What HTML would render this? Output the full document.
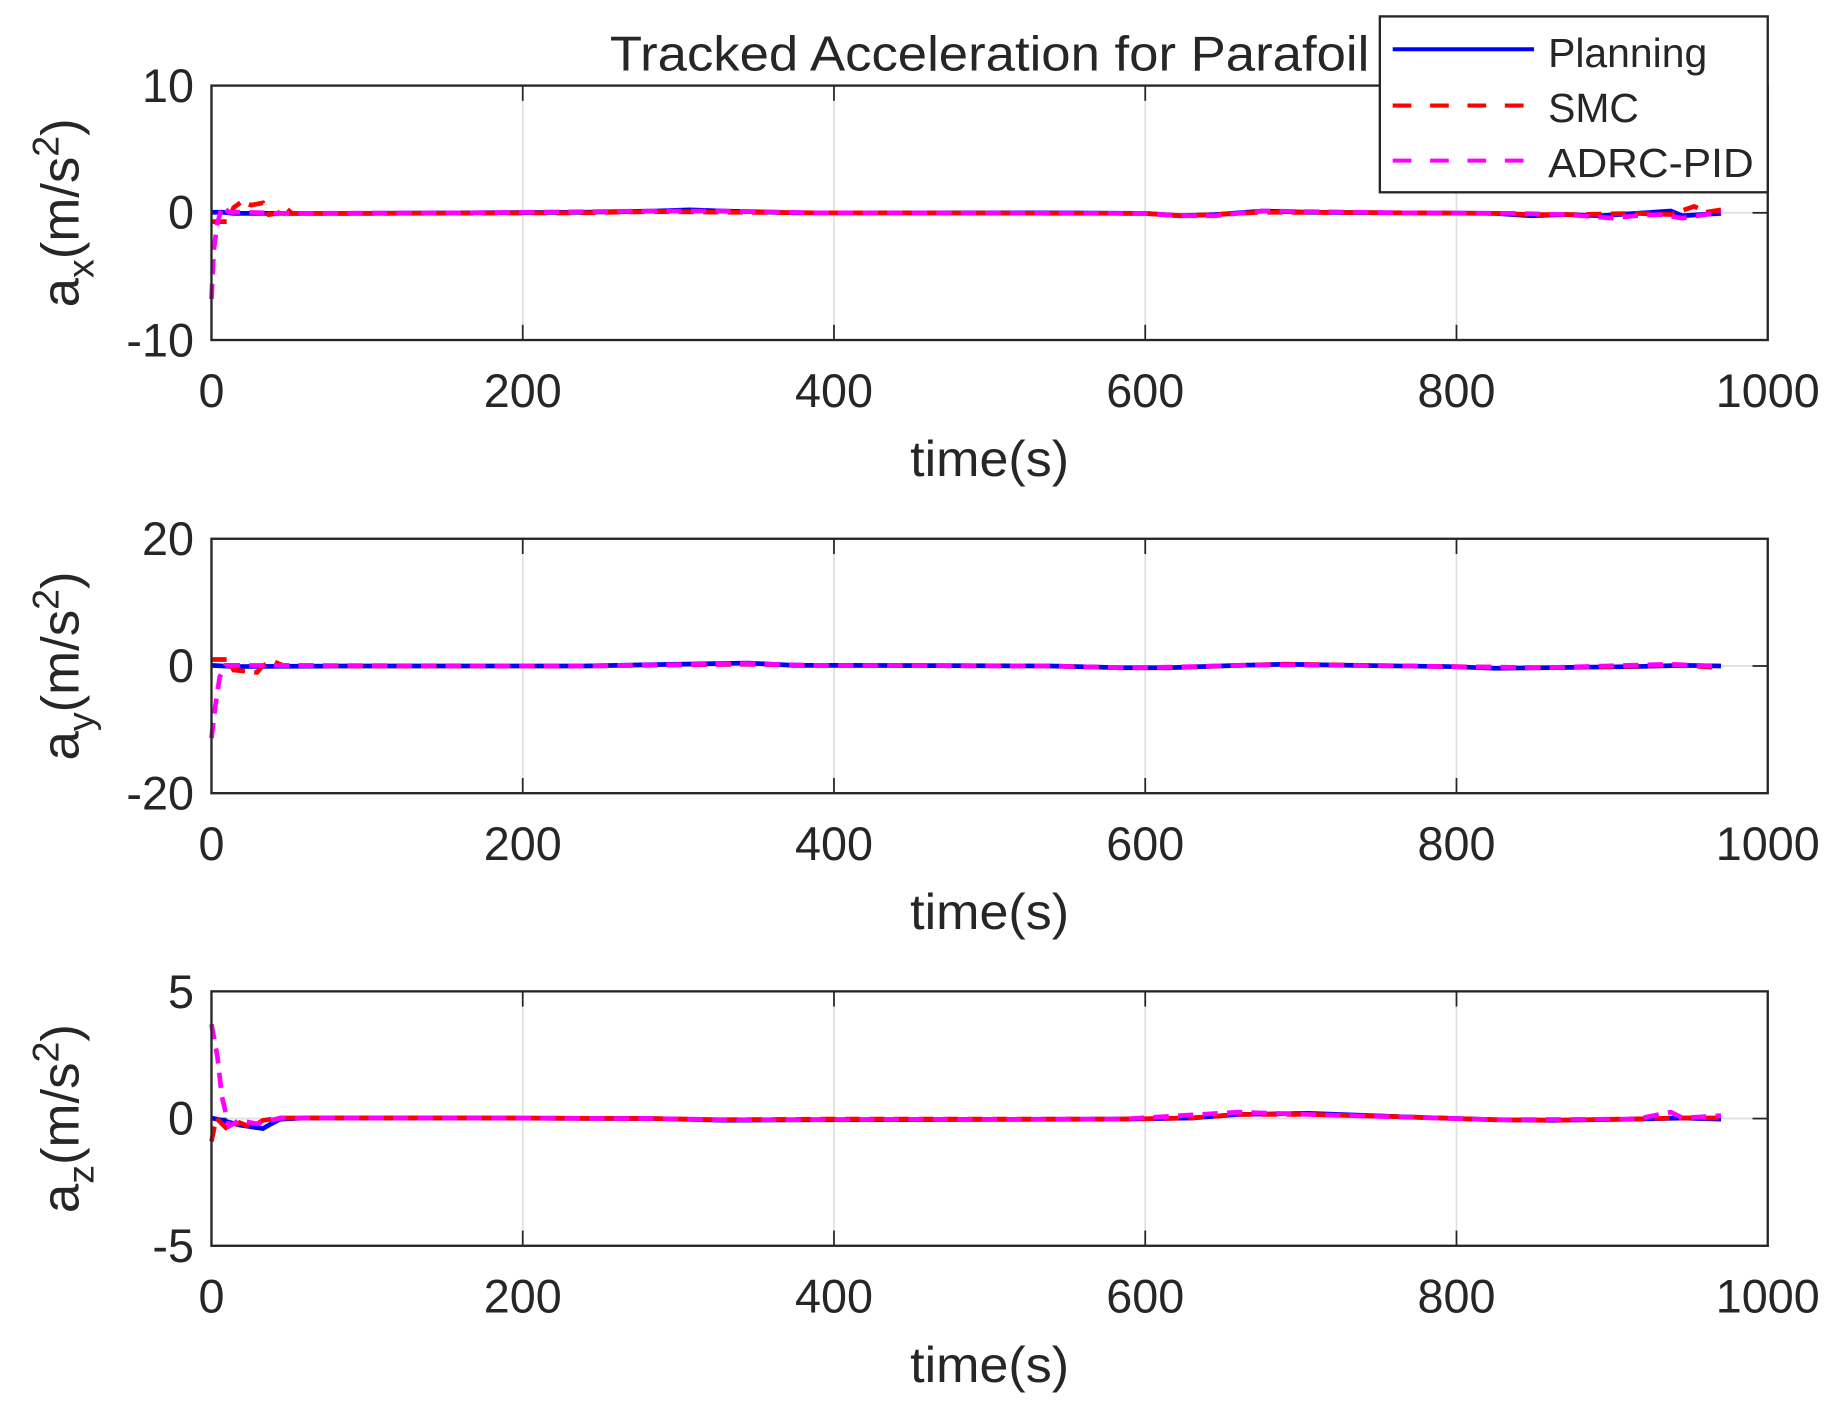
<!DOCTYPE html>
<html><head><meta charset="utf-8"><style>
html,body{margin:0;padding:0;background:#fff;}
svg{display:block;}
text{font-family:"Liberation Sans",Arial,sans-serif;fill:#262626;}
</style></head><body>
<svg width="1832" height="1407" viewBox="0 0 1568 1200" preserveAspectRatio="none" xmlns="http://www.w3.org/2000/svg">
<rect width="1568" height="1200" fill="#fff"/>
<defs>
<g id="grid">
<g stroke="#e0e0e0" stroke-width="1.5">
<line x1="447.4" y1="0" x2="447.4" y2="217"/>
<line x1="713.8" y1="0" x2="713.8" y2="217"/>
<line x1="980.2" y1="0" x2="980.2" y2="217"/>
<line x1="1246.6" y1="0" x2="1246.6" y2="217"/>
<line x1="181" y1="108.5" x2="1513" y2="108.5"/>
</g>
<g stroke="#262626" stroke-width="1.5">
<line x1="447.4" y1="217" x2="447.4" y2="204"/><line x1="447.4" y1="0" x2="447.4" y2="13"/>
<line x1="713.8" y1="217" x2="713.8" y2="204"/><line x1="713.8" y1="0" x2="713.8" y2="13"/>
<line x1="980.2" y1="217" x2="980.2" y2="204"/><line x1="980.2" y1="0" x2="980.2" y2="13"/>
<line x1="1246.6" y1="217" x2="1246.6" y2="204"/><line x1="1246.6" y1="0" x2="1246.6" y2="13"/>
<line x1="181" y1="108.5" x2="194" y2="108.5"/><line x1="1513" y1="108.5" x2="1500" y2="108.5"/>
</g>
<g font-size="40" text-anchor="middle">
<text x="181" y="274">0</text><text x="447.4" y="274">200</text><text x="713.8" y="274">400</text>
<text x="980.2" y="274">600</text><text x="1246.6" y="274">800</text><text x="1513" y="274">1000</text>
<text x="847" y="333" font-size="43" textLength="136" lengthAdjust="spacingAndGlyphs">time(s)</text>
</g>
</g>
<g id="frame"><rect x="181" y="0" width="1332" height="217" fill="none" stroke="#262626" stroke-width="2"/></g>
</defs>

<!-- Plot 1 -->
<g transform="translate(0,73)">
<use href="#grid"/>
<g font-size="40" text-anchor="end"><text x="166" y="14">10</text><text x="166" y="122">0</text><text x="166" y="231">-10</text></g>
<path d="M181 108 L190 108 L200 109 L260 109 L300 109 L400 108.5 L500 108 L560 107 L590 106 L620 107 L680 108.5 L900 108.5 L980 109 L1010 111 L1040 110 L1080 107 L1120 108 L1200 108.5 L1280 109 L1310 111 L1340 110 L1370 111 L1400 109 L1430 107 L1440 111 L1473 109" fill="none" stroke="#0000ff" stroke-width="4"/>
<path d="M181 116 L186 116 L195 116 L200 104 L207 99 L215 102 L225 100 L230 110 L238 109 L244 104 L250 109 L320 109 L500 108.5 L560 107.5 L620 108 L700 108.5 L980 109 L1010 111 L1040 110 L1080 108 L1200 108.5 L1280 109 L1310 110 L1350 110 L1400 109 L1430 110 L1450 103 L1460 108 L1473 106" fill="none" stroke="#ff0000" stroke-width="4" stroke-dasharray="13 8"/>
<path d="M181 182 L183 140 L186 118 L190 103 L196 108 L210 108 L240 109 L400 108.5 L560 107 L620 107 L700 108.5 L980 109 L1010 111 L1040 111 L1080 107 L1200 108.5 L1300 109 L1340 110 L1380 113 L1400 111 L1420 110 L1440 113 L1473 108" fill="none" stroke="#ff00ff" stroke-width="4" stroke-dasharray="13 8"/>
<use href="#frame"/>
<text transform="translate(67,108.5) rotate(-90)" font-size="45" text-anchor="middle">a<tspan font-size="32" dy="13">x</tspan><tspan dy="-13">(m/s</tspan><tspan font-size="32" dy="-17">2</tspan><tspan dy="17">)</tspan></text>
</g>

<!-- Plot 2 -->
<g transform="translate(0,459.5)">
<use href="#grid"/>
<g font-size="40" text-anchor="end"><text x="166" y="14">20</text><text x="166" y="122">0</text><text x="166" y="231">-20</text></g>
<path d="M181 108 L200 109 L300 108.5 L500 108.5 L580 107 L640 106 L680 108 L720 108 L900 108.5 L960 110 L1000 110 L1060 108 L1100 107 L1160 108 L1240 109 L1280 110.5 L1320 110 L1400 109 L1440 108 L1473 108.5" fill="none" stroke="#0000ff" stroke-width="4"/>
<path d="M181 103 L195 103 L200 112 L220 114 L225 108 L235 105 L242 108 L300 108.5 L500 108.5 L640 107 L700 108 L900 108.5 L960 110 L1000 110 L1060 108 L1100 107 L1240 109 L1320 110 L1440 108 L1473 110" fill="none" stroke="#ff0000" stroke-width="4" stroke-dasharray="13 8"/>
<path d="M181 170 L184 145 L188 118 L193 108 L200 108 L500 108.5 L640 106.5 L700 108 L900 108.5 L960 110 L1000 109.5 L1060 108 L1100 107.5 L1240 109 L1320 110 L1430 107 L1473 109" fill="none" stroke="#ff00ff" stroke-width="4" stroke-dasharray="13 8"/>
<use href="#frame"/>
<text transform="translate(67,108.5) rotate(-90)" font-size="45" text-anchor="middle">a<tspan font-size="32" dy="13">y</tspan><tspan dy="-13">(m/s</tspan><tspan font-size="32" dy="-17">2</tspan><tspan dy="17">)</tspan></text>
</g>

<!-- Plot 3 -->
<g transform="translate(0,845.5)">
<use href="#grid"/>
<g font-size="40" text-anchor="end"><text x="166" y="14">5</text><text x="166" y="122">0</text><text x="166" y="231">-5</text></g>
<path d="M181 108 L190 110 L205 114 L225 117 L232 113 L240 109 L260 108 L400 108 L560 108.5 L620 110 L700 109.5 L960 109 L1020 108 L1060 105 L1120 104 L1200 107 L1280 109.5 L1330 110 L1400 109 L1440 108 L1473 109" fill="none" stroke="#0000ff" stroke-width="4"/>
<path d="M181 128 L185 108 L195 118 L205 112 L215 116 L225 110 L240 108 L400 108 L560 108.5 L620 109.5 L700 109 L960 109 L1020 108 L1060 105 L1120 105 L1200 107 L1280 109.5 L1330 110 L1440 108 L1473 108" fill="none" stroke="#ff0000" stroke-width="4" stroke-dasharray="13 8"/>
<path d="M181 28 L186 55 L190 90 L196 115 L205 110 L220 113 L240 108 L400 108 L560 108.5 L620 109.5 L960 109 L1060 103 L1120 105 L1280 109.5 L1400 109 L1430 103 L1440 108 L1473 106" fill="none" stroke="#ff00ff" stroke-width="4" stroke-dasharray="13 8"/>
<use href="#frame"/>
<text transform="translate(67,108.5) rotate(-90)" font-size="45" text-anchor="middle">a<tspan font-size="32" dy="13">z</tspan><tspan dy="-13">(m/s</tspan><tspan font-size="32" dy="-17">2</tspan><tspan dy="17">)</tspan></text>
</g>

<!-- Title -->
<text x="847" y="60" font-size="42" text-anchor="middle" fill="#000" textLength="650" lengthAdjust="spacingAndGlyphs">Tracked Acceleration for Parafoil</text>

<!-- Legend -->
<rect x="1181" y="14" width="332" height="150" fill="#fff" stroke="#262626" stroke-width="2"/>
<line x1="1192" y1="42" x2="1313" y2="42" stroke="#0000ff" stroke-width="3.5"/>
<line x1="1192" y1="90" x2="1313" y2="90" stroke="#ff0000" stroke-width="3.5" stroke-dasharray="16 16"/>
<line x1="1192" y1="137" x2="1313" y2="137" stroke="#ff00ff" stroke-width="3.5" stroke-dasharray="16 16"/>
<g font-size="35" fill="#000">
<text x="1325" y="57" fill="#000">Planning</text>
<text x="1325" y="104" fill="#000">SMC</text>
<text x="1325" y="151" fill="#000" textLength="176" lengthAdjust="spacingAndGlyphs">ADRC-PID</text>
</g>
</svg>
</body></html>
